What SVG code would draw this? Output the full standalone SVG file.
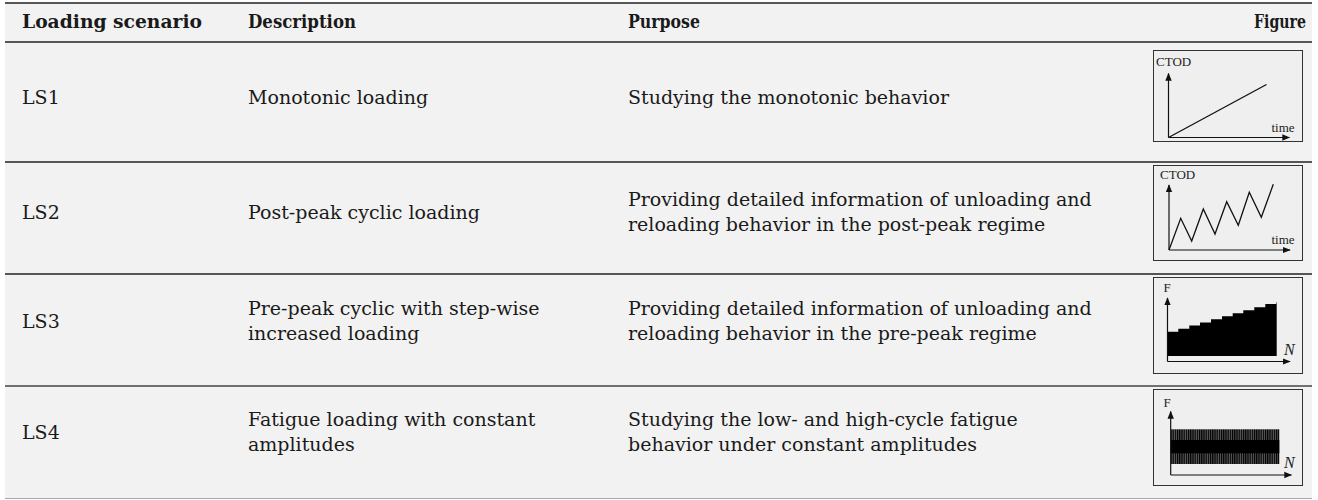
<svg xmlns="http://www.w3.org/2000/svg" width="1318" height="500" viewBox="0 0 1318 500">
<defs>
<style>
.t{font-family:"DejaVu Serif","Liberation Serif",serif;font-size:19px;fill:#1a1a1a}
.h{font-family:"DejaVu Serif","Liberation Serif",serif;font-size:18px;font-weight:bold;fill:#1a1a1a}
.s{font-family:"Liberation Serif","Times New Roman",serif;font-size:13px;fill:#222}
.n{font-family:"Liberation Serif","Times New Roman",serif;font-size:16px;font-style:italic;fill:#222}
.box{fill:#efefef;stroke:#333;stroke-width:1}
.ax{fill:none;stroke:#111;stroke-width:1.2}
.ln{fill:none;stroke:#111;stroke-width:1.3}
</style>
<marker id="ah" viewBox="0 0 10 10" refX="9" refY="5" markerWidth="8" markerHeight="8" markerUnits="userSpaceOnUse" orient="auto">
<path d="M0,1 L10,5 L0,9 Z" fill="#111"/>
</marker>
<pattern id="stripes" x="0" y="0" width="2.2" height="10" patternUnits="userSpaceOnUse">
<rect x="0" y="0" width="2.2" height="10" fill="#000"/>
<rect x="1.3" y="0" width="0.6" height="10" fill="#9a9a9a"/>
</pattern>
</defs>
<rect x="0" y="0" width="1318" height="500" fill="#ffffff"/>
<rect x="5" y="3" width="1307" height="496" fill="#f2f2f2"/>
<g id="rules">
<line x1="5" y1="3" x2="1312" y2="3" stroke="#222" stroke-width="1.5"/>
<line x1="5" y1="42" x2="1312" y2="42" stroke="#222" stroke-width="1.5"/>
<line x1="5" y1="162" x2="1312" y2="162" stroke="#222" stroke-width="1.5"/>
<line x1="5" y1="274" x2="1312" y2="274" stroke="#222" stroke-width="1.5"/>
<line x1="5" y1="386" x2="1312" y2="386" stroke="#444" stroke-width="1.5"/>
<line x1="5" y1="498.5" x2="1312" y2="498.5" stroke="#aaa" stroke-width="1"/>
</g>
<g id="header">
<text class="h" x="22" y="28" textLength="180" lengthAdjust="spacingAndGlyphs">Loading scenario</text>
<text class="h" x="248" y="28" textLength="108" lengthAdjust="spacingAndGlyphs">Description</text>
<text class="h" x="628" y="28" textLength="72" lengthAdjust="spacingAndGlyphs">Purpose</text>
<text class="h" x="1254" y="28" textLength="52" lengthAdjust="spacingAndGlyphs">Figure</text>
</g>
<g id="row-ls1">
<text class="t" x="22" y="104">LS1</text>
<text class="t" x="248" y="104">Monotonic loading</text>
<text class="t" x="628" y="104">Studying the monotonic behavior</text>
</g>
<g id="row-ls2">
<text class="t" x="22" y="218.5">LS2</text>
<text class="t" x="248" y="218.5">Post-peak cyclic loading</text>
<text class="t" x="628" y="206">Providing detailed information of unloading and</text>
<text class="t" x="628" y="231">reloading behavior in the post-peak regime</text>
</g>
<g id="row-ls3">
<text class="t" x="22" y="327.5">LS3</text>
<text class="t" x="248" y="315">Pre-peak cyclic with step-wise</text>
<text class="t" x="248" y="340">increased loading</text>
<text class="t" x="628" y="315">Providing detailed information of unloading and</text>
<text class="t" x="628" y="340">reloading behavior in the pre-peak regime</text>
</g>
<g id="row-ls4">
<text class="t" x="22" y="438.5">LS4</text>
<text class="t" x="248" y="426">Fatigue loading with constant</text>
<text class="t" x="248" y="451">amplitudes</text>
<text class="t" x="628" y="426">Studying the low- and high-cycle fatigue</text>
<text class="t" x="628" y="451">behavior under constant amplitudes</text>
</g>
<g id="fig-ls1">
<rect class="box" x="1153.5" y="50.5" width="149" height="91"/>
<text class="s" x="1156" y="65.5">CTOD</text>
<line class="ax" x1="1168.5" y1="137.5" x2="1168.5" y2="73.5" marker-end="url(#ah)"/>
<line class="ax" x1="1168.5" y1="137.5" x2="1289.5" y2="137.5" marker-end="url(#ah)"/>
<line class="ln" x1="1168.5" y1="137.5" x2="1266.5" y2="84.5"/>
<text class="s" x="1271.5" y="131.5">time</text>
</g>
<g id="fig-ls2">
<rect class="box" x="1153.5" y="165.5" width="149" height="95"/>
<text class="s" x="1160" y="179">CTOD</text>
<line class="ax" x1="1169" y1="250" x2="1169" y2="185" marker-end="url(#ah)"/>
<line class="ax" x1="1169" y1="250" x2="1290" y2="250" marker-end="url(#ah)"/>
<polyline class="ln" points="1169,250 1180.7,218.3 1191.7,241 1203.3,209 1215,234 1226.7,201.7 1238.3,225.3 1249.3,192.3 1261.3,217.3 1273.3,184.3"/>
<text class="s" x="1271.5" y="243.5">time</text>
</g>
<g id="fig-ls3">
<rect class="box" x="1153.5" y="277.5" width="149" height="96"/>
<text class="s" x="1163.5" y="291.5">F</text>
<path d="M1167.3,356 L1167.3,331.7 L1178.3,331.7 L1178.3,328.7 L1189.3,328.7 L1189.3,325.4 L1200,325.4 L1200,322.4 L1211,322.4 L1211,319.3 L1222,319.3 L1222,316.3 L1232.7,316.3 L1232.7,313.3 L1243.3,313.3 L1243.3,310.3 L1254.3,310.3 L1254.3,307.3 L1265.3,307.3 L1265.3,304 L1276.2,304 L1276.2,302.3 L1276.7,302.3 L1276.7,356 Z" fill="#000"/>
<line class="ax" x1="1167.5" y1="361.5" x2="1167.5" y2="298" marker-end="url(#ah)"/>
<line class="ax" x1="1167.5" y1="361.5" x2="1290" y2="361.5" marker-end="url(#ah)"/>
<text class="n" x="1284" y="355">N</text>
</g>
<g id="fig-ls4">
<rect class="box" x="1153.5" y="389.5" width="149" height="96"/>
<text class="s" x="1163.5" y="406.5">F</text>
<rect x="1170.7" y="429.3" width="108.6" height="34.7" fill="url(#stripes)"/>
<rect x="1170.7" y="440" width="108.6" height="13.3" fill="#000"/>
<line class="ax" x1="1170.7" y1="475" x2="1170.7" y2="411.5" marker-end="url(#ah)"/>
<line class="ax" x1="1170.7" y1="475" x2="1291.5" y2="475" marker-end="url(#ah)"/>
<text class="n" x="1284" y="467.5">N</text>
</g>
</svg>
